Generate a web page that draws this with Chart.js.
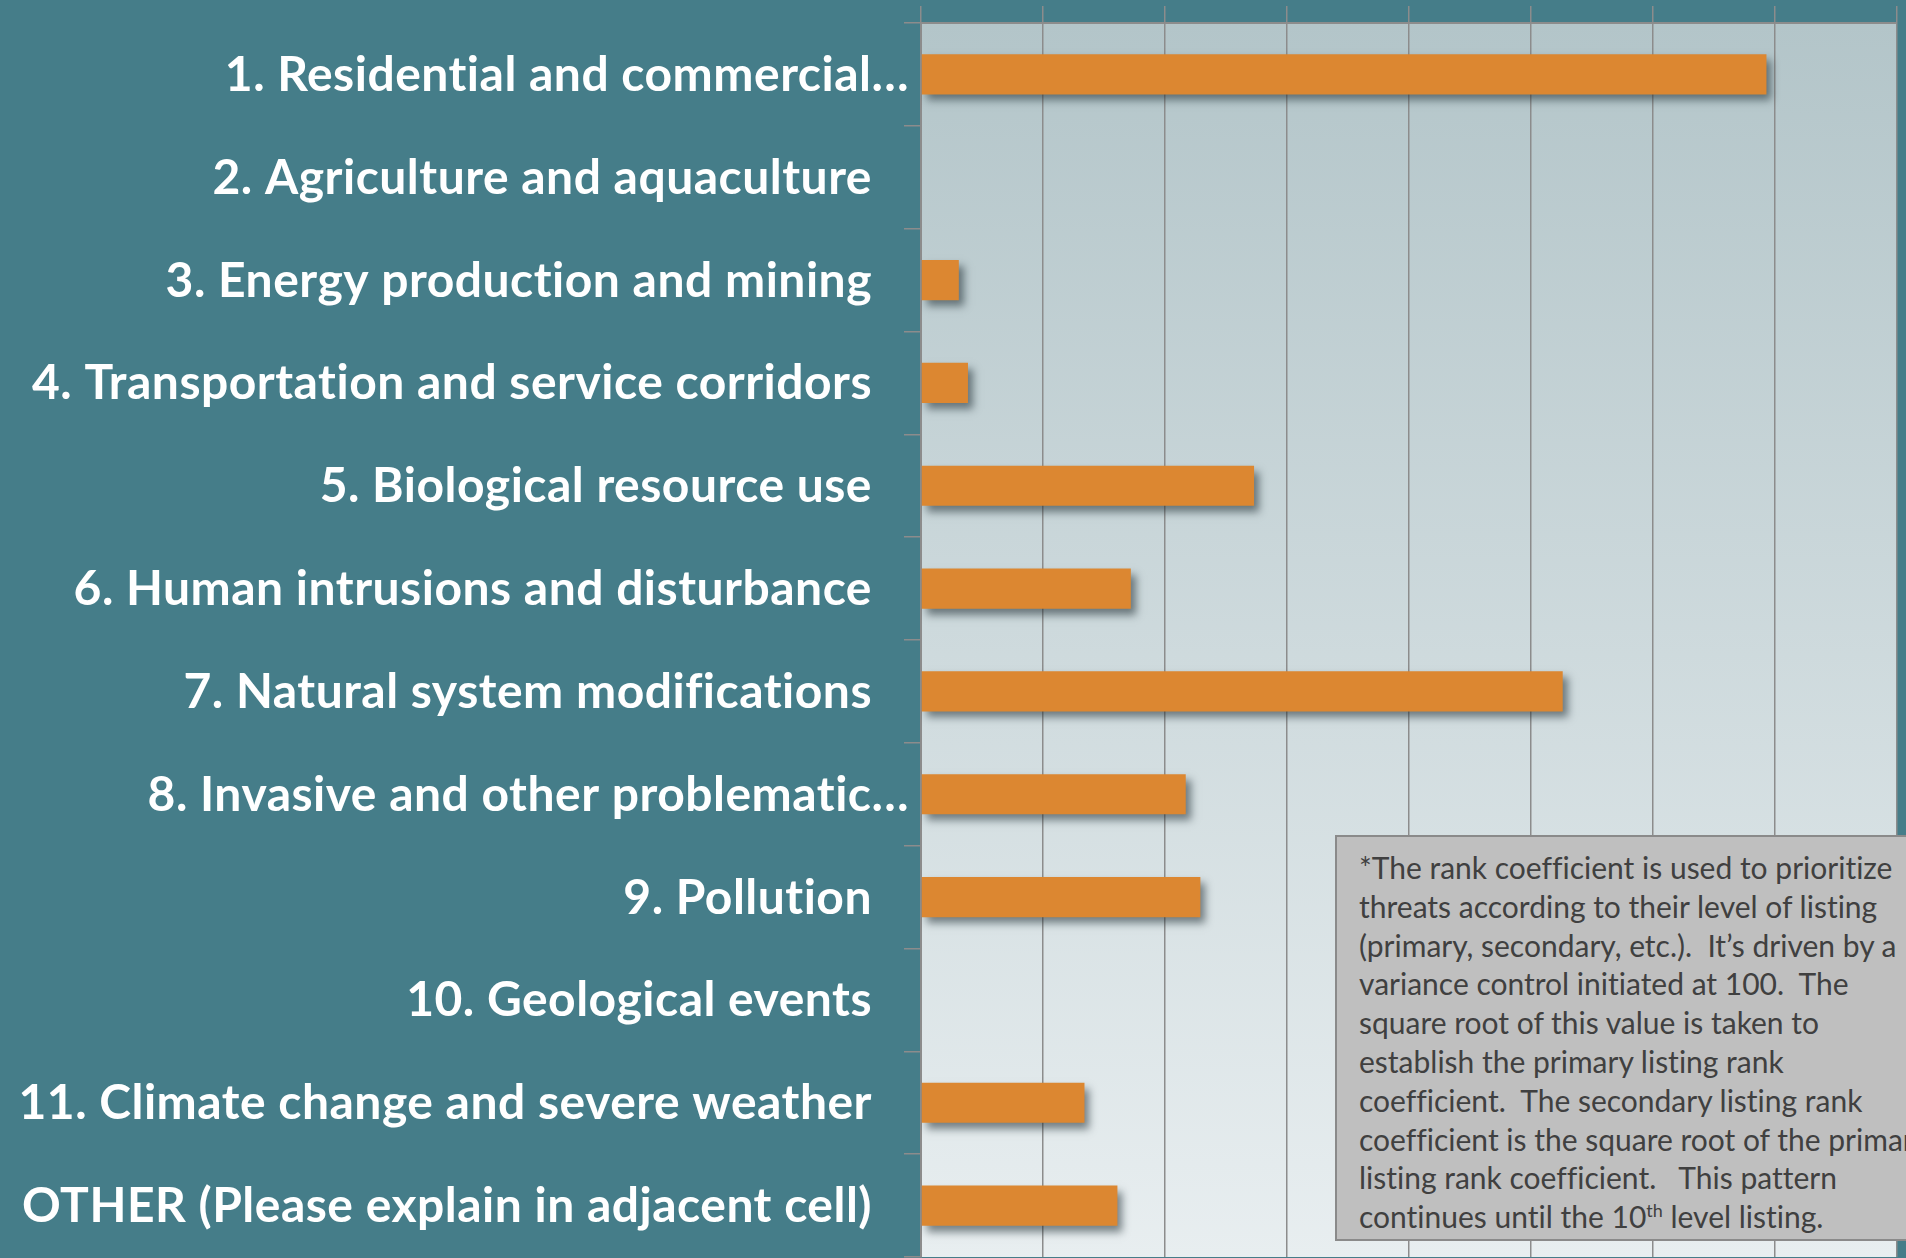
<!DOCTYPE html>
<html lang="en">
<head>
<meta charset="UTF-8">
<title>Threat rank coefficients</title>
<script src="https://cdn.jsdelivr.net/npm/chart.js"></script>
<style>
    body { margin: 0; background-color: #457d89; overflow: hidden; }
    #wrap { position: relative; width: 1906px; height: 1258px; }
    #note {
        position: absolute;
        left: 1335px;
        top: 835px;
        width: 620px;
        height: 406px;
        box-sizing: border-box;
        background-color: #bfbfbf;
        border: 2px solid #8a8a8a;
        padding: 11px 0 0 22px;
        font-family: Lato, sans-serif;
        font-size: 30px;
        font-variant-ligatures: none;
        line-height: 38.8px;
        color: #404040;
        white-space: nowrap;
    }
    #note sup { font-size: 0.6em; line-height: 0; }
</style>
</head>
<body>
<div id="wrap">
    <canvas id="threatChart" width="1906" height="1258"></canvas>
    <div id="note">
        *The rank coefficient is used to prioritize<br>
        threats according to their level of listing<br>
        (primary, secondary, etc.).&nbsp; It’s driven by a<br>
        variance control initiated at 100.&nbsp; The<br>
        square root of this value is taken to<br>
        establish the primary listing rank<br>
        coefficient.&nbsp; The secondary listing rank<br>
        coefficient is the square root of the primary<br>
        listing rank coefficient.&nbsp;&nbsp; This pattern<br>
        continues until the 10<sup>th</sup> level listing.
    </div>
</div>

<script>
    // threat categories (top to bottom) and their rank coefficient
    const categories = [
        "1. Residential and commercial…",
        "2. Agriculture and aquaculture",
        "3. Energy production and mining",
        "4. Transportation and service corridors",
        "5. Biological resource use",
        "6. Human intrusions and disturbance",
        "7. Natural system modifications",
        "8. Invasive and other problematic…",
        "9. Pollution",
        "10. Geological events",
        "11. Climate change and severe weather",
        "OTHER (Please explain in adjacent cell)"
    ];
    const rankCoefficient = [6.93, 0, 0.31, 0.385, 2.73, 1.72, 5.26, 2.17, 2.29, 0, 1.34, 1.61];

    // value axis (its labels are cut off in the original)
    const axisMin = 0;
    const axisMax = 8;
    const axisStep = 1;

    // light gradient behind the bars
    const plotBackground = {
        id: "plotBackground",
        beforeDraw(chart) {
            const { ctx, chartArea: a } = chart;
            let g = ctx.createLinearGradient(0, a.top, 0, a.bottom);
            g.addColorStop(0, "#b3c5c9");
            g.addColorStop(1, "#e8eef0");
            ctx.save();
            ctx.fillStyle = g;
            ctx.fillRect(a.left, a.top, a.right - a.left, a.bottom - a.top);
            ctx.restore();
        }
    };

    // soft drop shadow under the bars
    const barShadow = {
        id: "barShadow",
        beforeDatasetsDraw(chart) {
            const ctx = chart.ctx;
            ctx.save();
            ctx.shadowColor = "rgba(25, 40, 45, 0.55)";
            ctx.shadowBlur = 8;
            ctx.shadowOffsetX = 5;
            ctx.shadowOffsetY = 6;
        },
        afterDatasetsDraw(chart) {
            chart.ctx.restore();
        }
    };

    // category labels: truncated ones sit closer to the axis, like the original
    const categoryLabels = {
        id: "categoryLabels",
        afterDraw(chart) {
            const ctx = chart.ctx;
            const yScale = chart.scales.y;
            const left = chart.chartArea.left;
            ctx.save();
            ctx.font = "bold 48px Lato, sans-serif";
            ctx.letterSpacing = "0.5px"; // also stops the "ti" ligature
            ctx.fillStyle = "#ffffff";
            ctx.textAlign = "right";
            ctx.textBaseline = "middle";
            categories.forEach((label, i) => {
                let gap = label.endsWith("…") ? 12 : 49;
                ctx.fillText(label, left - gap, yScale.getPixelForValue(i) + 1);
            });
            ctx.restore();
        }
    };

    new Chart(document.getElementById("threatChart"), {
        type: "bar",
        data: {
            labels: categories,
            datasets: [{
                label: "Rank coefficient",
                data: rankCoefficient,
                backgroundColor: "#dc8731",
                borderWidth: 0,
                barPercentage: 0.39,
                categoryPercentage: 1
            }]
        },
        options: {
            indexAxis: "y",
            responsive: false,
            animation: false,
            devicePixelRatio: 1,
            layout: { padding: { top: 6, left: 904, right: 9, bottom: 1 } },
            plugins: {
                legend: { display: false },
                tooltip: { enabled: false }
            },
            scales: {
                x: {
                    type: "linear",
                    position: "top",
                    min: axisMin,
                    max: axisMax,
                    ticks: { display: false, stepSize: axisStep },
                    grid: { color: "#8c8c8c", lineWidth: 1.5, tickLength: 17 },
                    border: { color: "#8c8c8c", width: 2 }
                },
                y: {
                    type: "category",
                    offset: true,
                    ticks: { display: false },
                    grid: { offset: true, drawOnChartArea: false, tickLength: 17, color: "#8c8c8c", lineWidth: 1.5 },
                    border: { color: "#8c8c8c", width: 2 }
                }
            }
        },
        plugins: [plotBackground, barShadow, categoryLabels]
    });
</script>
</body>
</html>
